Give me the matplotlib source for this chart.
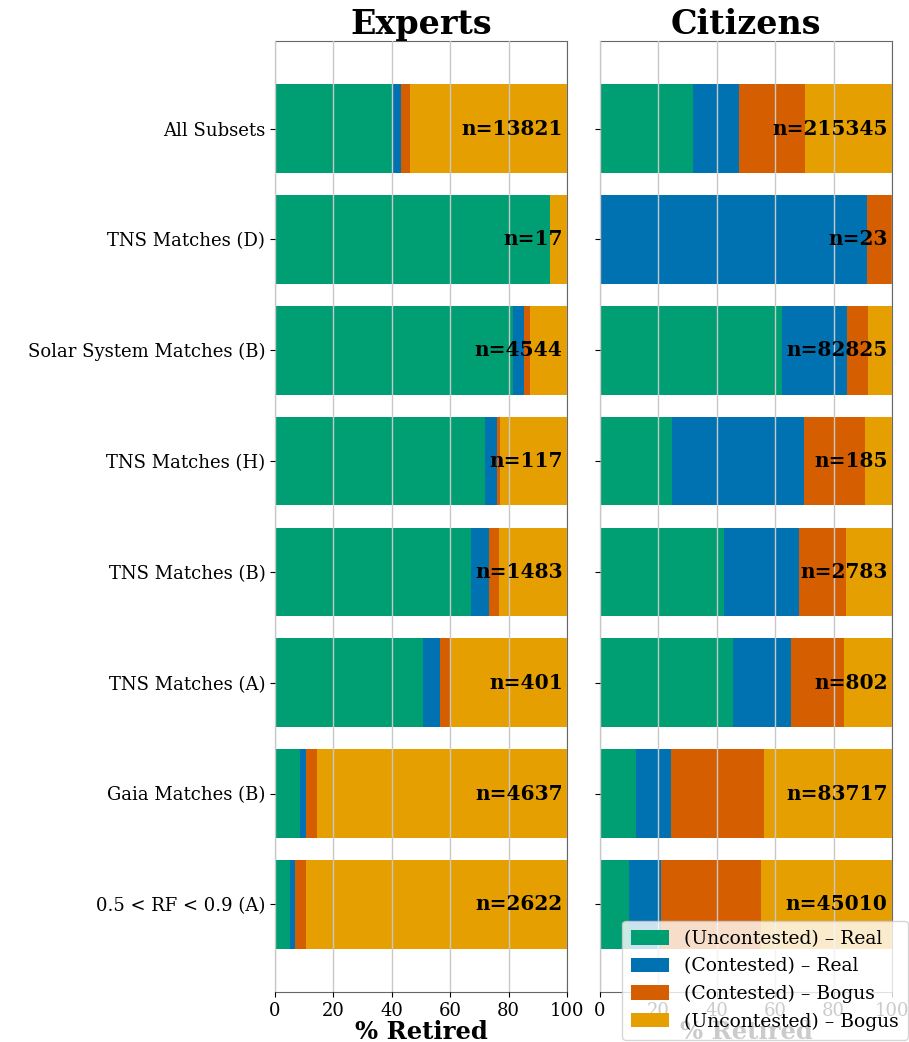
import numpy as np
import matplotlib
matplotlib.use("Agg")
import matplotlib.pyplot as plt

plt.rcParams['font.family'] = ['DejaVu Serif']

# ---------------- data ----------------
subsets = ["All Subsets", "TNS Matches (D)", "Solar System Matches (B)",
           "TNS Matches (H)", "TNS Matches (B)", "TNS Matches (A)",
           "Gaia Matches (B)", "0.5 < RF < 0.9 (A)"]
categories = ["(Uncontested) – Real", "(Contested) – Real",
              "(Contested) – Bogus", "(Uncontested) – Bogus"]
colors = ["#009E73", "#0072B2", "#D55E00", "#E69F00"]

# percent retired in each category (experts)
exp_unc_real = [40.1, 94.1, 81.4, 71.8, 67.2, 50.7, 8.6, 5.1]
exp_con_real = [3.1, 0.0, 3.7, 4.3, 6.2, 5.8, 2.0, 1.8]
exp_con_bogus = [3.1, 0.0, 2.3, 0.9, 3.4, 3.6, 3.8, 3.6]
exp_unc_bogus = [53.7, 5.9, 12.6, 23.0, 23.2, 39.9, 85.6, 89.5]
exp_n = [13821, 17, 4544, 117, 1483, 401, 4637, 2622]

# percent retired in each category (citizens)
cit_unc_real = [31.7, 0.0, 62.3, 24.8, 42.5, 45.6, 12.5, 9.9]
cit_con_real = [16.0, 91.3, 22.3, 45.0, 25.7, 19.8, 12.0, 11.1]
cit_con_bogus = [22.4, 8.7, 7.1, 21.1, 15.9, 18.1, 31.7, 34.0]
cit_unc_bogus = [29.9, 0.0, 8.3, 9.1, 15.9, 16.5, 43.8, 45.0]
cit_n = [215345, 23, 82825, 185, 2783, 802, 83717, 45010]

# ---------------- figure ----------------
fig = plt.figure(figsize=(9.09, 10.42), dpi=100)
ax1 = fig.add_axes([0.3025, 0.048, 0.3213, 0.9127])
ax2 = fig.add_axes([0.660, 0.048, 0.3213, 0.9127], sharey=ax1)

y = np.arange(len(subsets))


def draw_panel(ax, series, counts, title):
    left = np.zeros(len(subsets))
    for vals, c, lab in zip(series, colors, categories):
        ax.barh(y, vals, left=left, height=0.8, color=c, label=lab, linewidth=0)
        left += np.array(vals)
    for yi, n in zip(y, counts):
        ax.text(98.5, yi, f"n={n}", ha='right', va='center',
                fontsize=14.5, fontweight='bold')
    ax.set_xlim(0, 100)
    ax.set_xticks([0, 20, 40, 60, 80, 100])
    ax.grid(axis='x', color='#c8c8c8', linewidth=1)
    ax.set_axisbelow(False)
    ax.set_title(title, fontsize=24, fontweight='bold', pad=3)
    ax.set_xlabel("% Retired", fontsize=17.5, fontweight='bold', labelpad=0)
    ax.tick_params(labelsize=13)
    for s in ax.spines.values():
        s.set_color('#666666')


draw_panel(ax1, [exp_unc_real, exp_con_real, exp_con_bogus, exp_unc_bogus],
           exp_n, "Experts")
draw_panel(ax2, [cit_unc_real, cit_con_real, cit_con_bogus, cit_unc_bogus],
           cit_n, "Citizens")

ax1.set_yticks(y)
ax1.set_yticklabels(subsets)
ax1.invert_yaxis()
ax2.tick_params(labelleft=False)

handles, labels = ax2.get_legend_handles_labels()
fig.legend(handles, labels, loc='lower right', bbox_to_anchor=(0.999, 0.002),
           borderaxespad=0, fontsize=13.5, handlelength=2.0, handleheight=0.8,
           borderpad=0.5, labelspacing=0.5)

fig.savefig("out.png", dpi=100)
